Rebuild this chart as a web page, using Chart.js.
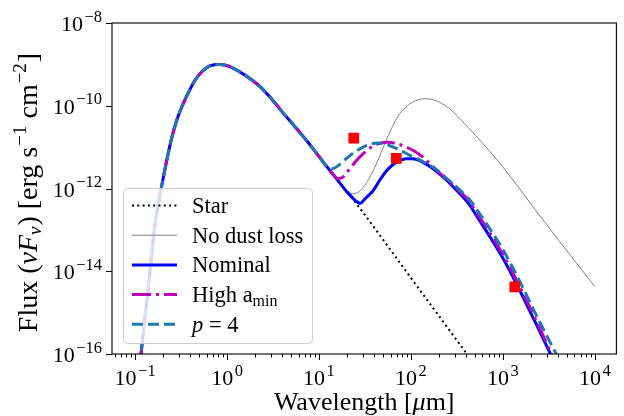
<!DOCTYPE html>
<html>
<head>
<meta charset="utf-8">
<script src="https://cdn.jsdelivr.net/npm/chart.js@4.4.0/dist/chart.umd.min.js"></script>
<style>
  html, body { margin: 0; padding: 0; background: #fff; }
  canvas { display: block; }
</style>
</head>
<body>
<canvas id="sed" width="624" height="416"></canvas>
<script>
// photosphere, shared by every model up to ~12 micron (wavelength in micron, flux in erg/s/cm2)
var photWl   = [0.1122, 0.1159, 0.1259, 0.1368, 0.1479, 0.1611, 0.1778, 0.1963, 0.2239, 0.2512,
                0.2818, 0.3214, 0.3802, 0.4467, 0.5248, 0.6209, 0.7244, 0.8318, 1.0, 1.303,
                1.738, 2.312, 3.090, 4.121, 5.495, 7.311, 9.333, 11.97];
var photFlux = [5.01e-17, 1.0e-16, 5.62e-16, 2.82e-15, 1.58e-14, 9.55e-14, 3.98e-13, 1.29e-12, 5.62e-12, 1.74e-11,
                4.27e-11, 9.33e-11, 2.09e-10, 4.07e-10, 6.46e-10, 8.71e-10, 9.77e-10, 1.0e-9, 9.33e-10, 7.08e-10,
                4.68e-10, 2.82e-10, 1.41e-10, 6.46e-11, 3.09e-11, 1.45e-11, 7.24e-12, 3.55e-12];

// long wavelength part of each curve
var starWl   = [15.85, 19.95, 24.77, 100, 407.4, 501.2];
var starFlux = [1.62e-12, 8.51e-13, 4.68e-13, 6.92e-15, 1.0e-16, 5.37e-17];

var noLossWl   = [15.85, 19.95, 22.91, 26.30, 30.20, 34.67, 39.81, 45.71, 53.70, 63.10, 74.13, 91.20,
                  112.2, 141.3, 177.8, 234.4, 295.1, 416.9, 616.6, 1000, 1660, 2630, 4074, 6310, 10000];
var noLossFlux = [1.62e-12, 9.12e-13, 7.59e-13, 7.94e-13, 1.05e-12, 1.66e-12, 3.02e-12, 6.03e-12, 1.45e-11, 3.16e-11, 6.03e-11, 1.0e-10,
                  1.32e-10, 1.48e-10, 1.38e-10, 1.02e-10, 6.76e-11, 3.02e-11, 1.17e-11, 3.31e-12, 7.59e-13, 1.95e-13, 5.50e-14, 1.58e-14, 4.27e-15];

var nominalWl   = [15.85, 19.95, 22.91, 25.12, 28.05, 31.62, 38.90, 45.71, 54.33, 61.66, 69.50, 89.13, 104.7,
                   123.0, 151.4, 186.2, 239.9, 309.0, 426.6, 524.8, 758.6, 1000, 1230, 1622, 2239, 3236, 3981];
var nominalFlux = [1.62e-12, 8.51e-13, 6.17e-13, 5.01e-13, 4.37e-13, 5.62e-13, 8.91e-13, 1.58e-12, 2.69e-12, 3.55e-12, 4.27e-12, 5.25e-12, 5.25e-12,
                   4.79e-12, 3.72e-12, 2.69e-12, 1.66e-12, 9.33e-13, 4.27e-13, 2.09e-13, 5.75e-14, 2.09e-14, 8.91e-15, 2.63e-15, 6.03e-16, 1.10e-16, 4.17e-17];

var highAminWl   = [14.13, 15.85, 17.78, 19.95, 25.70, 31.62, 38.90, 46.77, 56.23, 70.79, 89.13, 109.6,
                    134.9, 173.8, 218.8, 309.0, 426.6, 524.8, 758.6, 1000, 1230, 1622, 2239, 3388, 3981];
var highAminFlux = [2.24e-12, 1.74e-12, 1.82e-12, 2.40e-12, 4.79e-12, 7.59e-12, 1.07e-11, 1.26e-11, 1.32e-11, 1.20e-11, 1.0e-11, 7.94e-12,
                    5.75e-12, 3.39e-12, 2.09e-12, 1.05e-12, 5.01e-13, 2.51e-13, 7.08e-14, 2.57e-14, 1.10e-14, 3.24e-15, 7.41e-16, 1.0e-16, 4.79e-17];

var p4Wl   = [12.88, 14.13, 15.85, 18.62, 21.88, 25.70, 30.20, 36.31, 42.66, 51.29, 63.10, 77.62, 95.50,
              123.0, 154.9, 199.5, 251.2, 309.0, 426.6, 524.8, 758.6, 1000, 1230, 1622, 2239, 3802, 4467];
var p4Flux = [3.16e-12, 3.02e-12, 3.47e-12, 4.68e-12, 6.31e-12, 8.13e-12, 1.0e-11, 1.17e-11, 1.26e-11, 1.20e-11, 1.02e-11, 8.32e-12, 6.46e-12,
              5.01e-12, 3.80e-12, 2.63e-12, 1.66e-12, 1.12e-12, 5.62e-13, 3.02e-13, 8.91e-14, 3.39e-14, 1.45e-14, 4.37e-15, 1.0e-15, 1.0e-16, 5.01e-17];

// observed photometry
var obsWl   = [23.9, 69.3, 1350];
var obsFlux = [1.64e-11, 5.37e-12, 4.17e-15];

// axes
var xMin = 0.056, xMax = 1.72e4;
var yMin = 1e-16, yMax = 1e-8;
var xTickVals = [0.1, 1, 10, 100, 1000, 10000];
var xTickExp  = ['\u22121', '0', '1', '2', '3', '4'];
var yTickVals = [1e-16, 1e-14, 1e-12, 1e-10, 1e-8];
var yTickExp  = ['\u221216', '\u221214', '\u221212', '\u221210', '\u22128'];

var FONT = '"Liberation Serif", "DejaVu Serif", serif';

function pts(wl, fl) {
  return wl.map(function (w, i) { return { x: w, y: fl[i] }; });
}

function withPhot(wl, fl) {
  // photosphere points shortward of the model's own first point
  var out = [];
  for (var i = 0; i < photWl.length; i++) {
    if (photWl[i] < wl[0]) out.push({ x: photWl[i], y: photFlux[i] });
  }
  return out.concat(pts(wl, fl));
}

function lineSet(label, data, color, width, dash, order) {
  return {
    label: label,
    data: data,
    showLine: true,
    borderColor: color,
    backgroundColor: color,
    borderWidth: width,
    borderDash: dash,
    borderJoinStyle: 'round',
    pointRadius: 0,
    pointHoverRadius: 0,
    cubicInterpolationMode: 'monotone',
    clip: 0,
    order: order
  };
}

var datasets = [
  lineSet('Star', withPhot(starWl, starFlux), '#000000', 2, [2, 3.3], 6),
  lineSet('No dust loss', withPhot(noLossWl, noLossFlux), '#808080', 1, [], 5),
  lineSet('Nominal', withPhot(nominalWl, nominalFlux), '#0000ff', 3, [], 4),
  lineSet('High a_min', withPhot(highAminWl, highAminFlux), '#bf00bf', 3, [19, 5, 3, 5], 3),
  lineSet('p = 4', withPhot(p4Wl, p4Flux), '#1f77b4', 3, [11, 5], 2),
  {
    label: 'data',
    data: pts(obsWl, obsFlux),
    showLine: false,
    pointStyle: 'rect',
    pointRadius: 7.6,
    pointBorderWidth: 0,
    borderWidth: 0,
    backgroundColor: '#ff0000',
    borderColor: '#ff0000',
    order: 1
  }
];

// legend text, some of it with sub/superscripts
var legendText = [
  [{ t: 'Star' }],
  [{ t: 'No dust loss' }],
  [{ t: 'Nominal' }],
  [{ t: 'High a' }, { t: 'min', s: 16, dy: 4 }],
  [{ t: 'p', it: true }, { t: ' = 4' }]
];

function setFont(ctx, p, base) {
  ctx.font = (p.it ? 'italic ' : '') + (p.s || base) + 'px ' + FONT;
}

function richWidth(ctx, parts, base) {
  var w = 0;
  parts.forEach(function (p) { setFont(ctx, p, base); w += ctx.measureText(p.t).width + (p.gap || 0); });
  return w;
}

function drawRich(ctx, parts, x, y, align, base) {
  var w = richWidth(ctx, parts, base);
  var cx = align === 'center' ? x - w / 2 : (align === 'right' ? x - w : x);
  ctx.textAlign = 'left';
  ctx.textBaseline = 'alphabetic';
  parts.forEach(function (p) {
    setFont(ctx, p, base);
    cx += (p.gap || 0);
    ctx.fillText(p.t, cx, y + (p.dy || 0));
    cx += ctx.measureText(p.t).width;
  });
}

function powLabel(exp) {
  return [{ t: '10' }, { t: exp, s: 16.5, dy: -9.5, gap: 1.5 }];
}

var decor = {
  id: 'decor',
  afterDatasetsDraw: function (chart) {
    var ctx = chart.ctx, a = chart.chartArea;
    var xs = chart.scales.x, ys = chart.scales.y;
    ctx.save();
    ctx.fillStyle = '#000';
    ctx.strokeStyle = '#000';

    // frame
    ctx.lineWidth = 1.1;
    ctx.strokeRect(a.left, a.top, a.right - a.left, a.bottom - a.top);

    // x ticks, major and minor; y ticks every second decade
    ctx.lineWidth = 1;
    ctx.beginPath();
    for (var e = -2; e <= 4; e++) {
      for (var m = 1; m < 10; m++) {
        var v = m * Math.pow(10, e);
        if (v < xMin || v > xMax) continue;
        var px = Math.round(xs.getPixelForValue(v)) + 0.5;
        ctx.moveTo(px, a.bottom);
        ctx.lineTo(px, a.bottom + (m === 1 ? 6 : 3.5));
      }
    }
    yTickVals.forEach(function (v) {
      var py = Math.round(ys.getPixelForValue(v)) + 0.5;
      ctx.moveTo(a.left, py);
      ctx.lineTo(a.left - 6, py);
    });
    ctx.stroke();

    // tick labels
    xTickVals.forEach(function (v, i) {
      drawRich(ctx, powLabel(xTickExp[i]), xs.getPixelForValue(v), 385, 'center', 22);
    });
    yTickVals.forEach(function (v, i) {
      drawRich(ctx, powLabel(yTickExp[i]), a.left - 10, ys.getPixelForValue(v) + 8, 'right', 22);
    });

    // axis titles
    drawRich(ctx, [{ t: 'Wavelength [' }, { t: '\u03bc', it: true }, { t: 'm]' }], (a.left + a.right) / 2, 410, 'center', 26);
    ctx.save();
    ctx.translate(37, (a.top + a.bottom) / 2 + 4);
    ctx.rotate(-Math.PI / 2);
    drawRich(ctx, [
      { t: 'Flux (' }, { t: '\u03bdF', it: true }, { t: '\u03bd', it: true, s: 19, dy: 4 },
      { t: ') [erg s', gap: 1 }, { t: '\u22121', s: 19, dy: -11, gap: 1 }, { t: ' cm' }, { t: '\u22122', s: 19, dy: -11, gap: 1 }, { t: ']', gap: 1 }
    ], 0, 0, 'center', 28);
    ctx.restore();

    // legend
    var bx = 123.5, by = 188.5, bw = 189, bh = 155;
    ctx.beginPath();
    ctx.roundRect(bx, by, bw, bh, 4);
    ctx.fillStyle = 'rgba(255,255,255,0.8)';
    ctx.fill();
    ctx.strokeStyle = '#cccccc';
    ctx.lineWidth = 1;
    ctx.stroke();
    for (var k = 0; k < legendText.length; k++) {
      var ds = chart.data.datasets[k];
      var ly = 205.5 + k * 29.7;
      ctx.beginPath();
      ctx.strokeStyle = ds.borderColor;
      ctx.lineWidth = ds.borderWidth;
      ctx.setLineDash(ds.borderDash);
      ctx.moveTo(132, ly);
      ctx.lineTo(177, ly);
      ctx.stroke();
      ctx.setLineDash([]);
      ctx.fillStyle = '#000';
      drawRich(ctx, legendText[k], 192, ly + 7.5, 'left', 22.5);
    }
    ctx.restore();
  }
};

new Chart(document.getElementById('sed'), {
  type: 'scatter',
  data: { datasets: datasets },
  options: {
    responsive: false,
    animation: false,
    events: [],
    layout: { padding: { left: 0, right: 1, top: 23, bottom: 0 } },
    plugins: { legend: { display: false }, tooltip: { enabled: false } },
    scales: {
      x: {
        type: 'logarithmic', min: xMin, max: xMax,
        ticks: { display: false },
        grid: { display: false },
        border: { display: false },
        afterFit: function (s) { s.height = 62; }
      },
      y: {
        type: 'logarithmic', min: yMin, max: yMax,
        ticks: { display: false },
        grid: { display: false },
        border: { display: false },
        afterFit: function (s) { s.width = 112; }
      }
    }
  },
  plugins: [decor]
});
</script>
</body>
</html>
